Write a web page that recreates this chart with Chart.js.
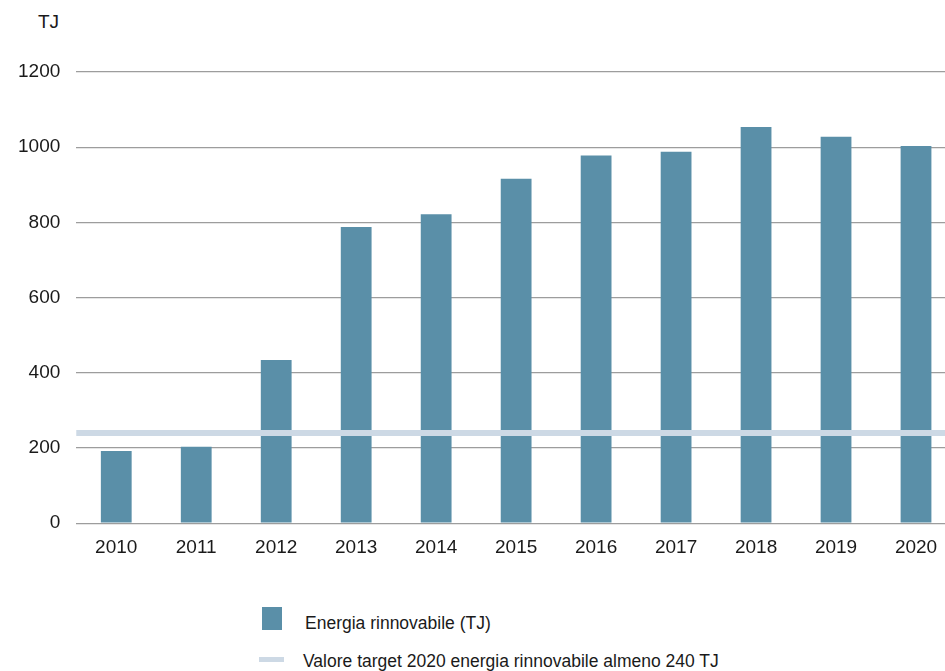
<!DOCTYPE html>
<html>
<head>
<meta charset="utf-8">
<script src="https://cdn.jsdelivr.net/npm/chart.js@4/dist/chart.umd.min.js"></script>
<style>
  html, body { margin: 0; padding: 0; background: #fff; overflow: hidden; width: 945px; height: 671px; }
  #wrap { position: absolute; left: 0; top: 0; width: 956px; height: 580px; }
  #unit { position: absolute; left: 0; top: 12px; width: 59px; text-align: right; font: 19px "Liberation Sans", Arial, sans-serif; line-height: 20px; color: #1a1a1a; }
  .lg-text { position: absolute; font: 17.5px "Liberation Sans", Arial, sans-serif; line-height: 20px; color: #1a1a1a; white-space: nowrap; }
  .lg-box { position: absolute; }
</style>
</head>
<body>
<div id="unit">TJ</div>
<div id="wrap"><canvas id="c"></canvas></div>
<div class="lg-box" id="lgBar" style="left:262px; top:607px; width:20px; height:23px;"></div>
<div class="lg-text" id="lgBarText" style="left:305px; top:613px;"></div>
<div class="lg-box" id="lgLine" style="left:259px; top:657px; width:25px; height:5px;"></div>
<div class="lg-text" id="lgLineText" style="left:303px; top:651px;"></div>
<script>
const years = ['2010','2011','2012','2013','2014','2015','2016','2017','2018','2019','2020'];
const renewableTJ = [192, 203, 434, 788, 822, 916, 978, 988, 1054, 1028, 1003];
const targetTJ = 240;
const yTicks = [0, 200, 400, 600, 800, 1000, 1200];
const seriesLabel = 'Energia rinnovabile (TJ)';
const targetLabel = 'Valore target 2020 energia rinnovabile almeno 240 TJ';
const unitLabel = 'TJ';

const barColor = '#5a8fa8';
const targetColor = '#cdd9e5';

document.getElementById('unit').textContent = unitLabel;
document.getElementById('lgBar').style.background = barColor;
document.getElementById('lgLine').style.background = targetColor;
document.getElementById('lgBarText').textContent = seriesLabel;
document.getElementById('lgLineText').textContent = targetLabel;

const targetLine = {
  id: 'targetLine',
  afterDatasetsDraw(chart) {
    const { ctx, chartArea, scales } = chart;
    const y = scales.y.getPixelForValue(targetTJ);
    ctx.save();
    ctx.strokeStyle = targetColor;
    ctx.lineWidth = 6;
    ctx.beginPath();
    ctx.moveTo(chartArea.left, y);
    ctx.lineTo(chartArea.right, y);
    ctx.stroke();
    ctx.restore();
  }
};

new Chart(document.getElementById('c'), {
  type: 'bar',
  data: {
    labels: years,
    datasets: [{
      label: seriesLabel,
      data: renewableTJ,
      backgroundColor: barColor,
      borderWidth: 0,
      barPercentage: 0.385,
      categoryPercentage: 1
    }]
  },
  options: {
    responsive: true,
    maintainAspectRatio: false,
    animation: false,
    layout: { padding: { top: 72, left: 2, right: 0, bottom: 8 } },
    plugins: { legend: { display: false }, tooltip: { enabled: false }, title: { display: false } },
    scales: {
      x: {
        grid: { display: false, drawTicks: false },
        border: { display: false },
        ticks: { color: '#1a1a1a', font: { family: '"Liberation Sans", Arial, sans-serif', size: 19 }, padding: 13, maxRotation: 0 }
      },
      y: {
        min: 0, max: 1200,
        afterBuildTicks(axis) { axis.ticks = yTicks.map(v => ({ value: v })); },
        grid: { color: '#9d9d9d', lineWidth: 1.2, drawTicks: false },
        border: { display: false },
        ticks: { color: '#1a1a1a', font: { family: '"Liberation Sans", Arial, sans-serif', size: 19 }, padding: 16, callback: v => String(v) }
      }
    }
  },
  plugins: [targetLine]
});
</script>
</body>
</html>
